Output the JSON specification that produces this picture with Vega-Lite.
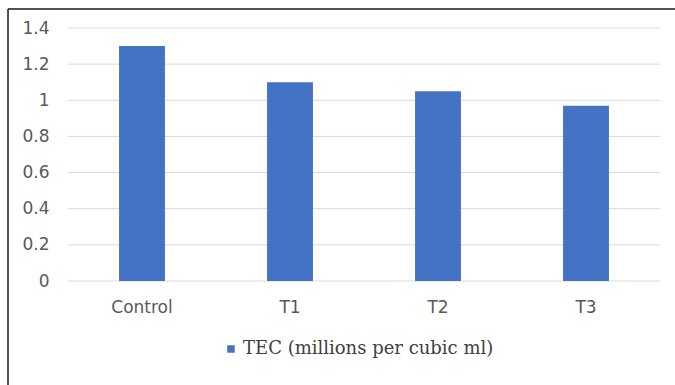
{
  "$schema": "https://vega.github.io/schema/vega-lite/v6.json",
  "width": 667,
  "height": 376,
  "autosize": "none",
  "padding": {"left": 8, "top": 9, "right": 0, "bottom": 0},
  "background": "white",
  "config": {
    "view": {"stroke": "#1a1a1a", "strokeWidth": 1.5, "strokeDash": [667, 1043, 376, 0]},
    "axis": {"labelFont": "DejaVu Sans", "labelFontSize": 17, "labelColor": "#595959"}
  },
  "datasets": {
    "tec": [
      {"group": "Control", "value": 1.3},
      {"group": "T1", "value": 1.1},
      {"group": "T2", "value": 1.05},
      {"group": "T3", "value": 0.97}
    ],
    "ticks": [
      {"v": 0}, {"v": 0.2}, {"v": 0.4}, {"v": 0.6},
      {"v": 0.8}, {"v": 1}, {"v": 1.2}, {"v": 1.4}
    ]
  },
  "layer": [
    {
      "data": {"name": "ticks"},
      "mark": {"type": "rule", "color": "#d9d9d9", "strokeWidth": 1},
      "encoding": {
        "y": {
          "field": "v",
          "type": "quantitative",
          "scale": {"domain": [0, 1.4], "range": [272, 19], "nice": false},
          "axis": {
            "title": null,
            "grid": false,
            "domain": false,
            "ticks": false,
            "values": [0, 0.2, 0.4, 0.6, 0.8, 1, 1.2, 1.4],
            "format": "~g",
            "labelPadding": 0,
            "offset": -41
          }
        },
        "x": {
          "datum": 0,
          "type": "quantitative",
          "scale": {"domain": [0, 1], "range": [60, 652]},
          "axis": null
        },
        "x2": {"datum": 1}
      }
    },
    {
      "data": {"name": "tec"},
      "mark": {"type": "bar"},
      "encoding": {
        "x": {
          "field": "group",
          "type": "nominal",
          "sort": null,
          "scale": {"range": [60, 652], "paddingInner": 0.69, "paddingOuter": 0.345},
          "axis": {
            "title": null,
            "labelAngle": 0,
            "domain": false,
            "ticks": false,
            "labelPadding": 18,
            "offset": -104
          }
        },
        "y": {
          "field": "value",
          "type": "quantitative",
          "scale": {"domain": [0, 1.4], "range": [272, 19], "nice": false},
          "axis": {
            "title": null,
            "grid": false,
            "domain": false,
            "ticks": false,
            "values": [0, 0.2, 0.4, 0.6, 0.8, 1, 1.2, 1.4],
            "format": "~g",
            "labelPadding": 0,
            "offset": -41
          }
        },
        "color": {
          "datum": "TEC (millions per cubic ml)",
          "scale": {"range": ["#4472C4"]},
          "legend": {
            "title": null,
            "orient": "none",
            "legendX": 214,
            "legendY": 331,
            "padding": 0,
            "symbolType": "square",
            "symbolSize": 56,
            "symbolStrokeWidth": 0,
            "labelFont": "DejaVu Serif",
            "labelFontSize": 18,
            "labelColor": "#404040",
            "labelOffset": 3,
            "labelLimit": 0
          }
        }
      }
    }
  ],
  "resolve": {"scale": {"x": "independent"}}
}
